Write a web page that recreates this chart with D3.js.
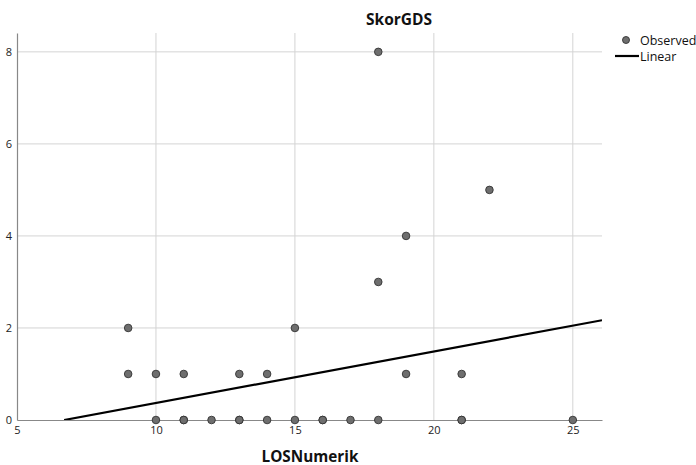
<!DOCTYPE html>
<html>
<head>
<meta charset="utf-8">
<script src="https://cdn.jsdelivr.net/npm/d3@7"></script>
<style>
  body { margin: 0; background: #fff; }
  text { font-family: "Open Sans", "DejaVu Sans", sans-serif; }
</style>
</head>
<body>
<script>
// observed points (LOSNumerik, SkorGDS)
var losValues  = [9, 9, 10, 11, 13, 14, 15, 18, 18, 19, 19, 21, 22,
                  10, 11, 11, 12, 13, 13, 14, 15, 16, 16, 17, 18, 21, 21, 25];
var skorValues = [2, 1, 1, 1, 1, 1, 2, 8, 3, 4, 1, 1, 5,
                  0, 0, 0, 0, 0, 0, 0, 0, 0, 0, 0, 0, 0, 0, 0];
// linear fit line
var fitIntercept = -0.75;
var fitSlope = 0.112;

var xTicks = [5, 10, 15, 20, 25];
var yTicks = [0, 2, 4, 6, 8];

var width = 696, height = 465;
var plotLeft = 17, plotRight = 602, plotTop = 33, plotBottom = 420;

var svg = d3.select("body").append("svg")
    .attr("width", width)
    .attr("height", height);

var x = d3.scaleLinear().domain([5, 26.05]).range([plotLeft, plotRight]);
var y = d3.scaleLinear().domain([0, 8.41]).range([plotBottom, plotTop]);

// grid
svg.selectAll("line.gx").data(xTicks.slice(1)).enter().append("line")
    .attr("x1", function(d) { return x(d); })
    .attr("x2", function(d) { return x(d); })
    .attr("y1", plotTop).attr("y2", plotBottom)
    .attr("stroke", "#d4d4d4").attr("stroke-width", 1);
svg.selectAll("line.gy").data(yTicks.slice(1)).enter().append("line")
    .attr("x1", plotLeft).attr("x2", plotRight)
    .attr("y1", function(d) { return y(d); })
    .attr("y2", function(d) { return y(d); })
    .attr("stroke", "#d4d4d4").attr("stroke-width", 1);

// axes
var xAxis = svg.append("g")
    .attr("transform", "translate(0," + plotBottom + ")")
    .call(d3.axisBottom(x).tickValues(xTicks).tickSize(0).tickPadding(6));
var yAxis = svg.append("g")
    .attr("transform", "translate(" + plotLeft + ",0)")
    .call(d3.axisLeft(y).tickValues(yTicks).tickSize(0).tickPadding(5));

[xAxis, yAxis].forEach(function(a) {
    a.select(".domain").attr("stroke", "#888").attr("stroke-width", 1.2);
    a.selectAll("text")
        .attr("font-family", "'Open Sans', sans-serif")
        .attr("font-size", "11px")
        .attr("fill", "#222");
});

// fit line, clipped to plot region
svg.append("clipPath").attr("id", "plotclip")
    .append("rect").attr("x", plotLeft).attr("y", plotTop)
    .attr("width", plotRight - plotLeft).attr("height", plotBottom - plotTop);

var x0 = -fitIntercept / fitSlope;
var x1 = x.domain()[1];
svg.append("line")
    .attr("clip-path", "url(#plotclip)")
    .attr("x1", x(x0)).attr("y1", y(0))
    .attr("x2", x(x1)).attr("y2", y(fitIntercept + fitSlope * x1))
    .attr("stroke", "#000").attr("stroke-width", 2.2);

// points
svg.selectAll("circle.pt").data(losValues).enter().append("circle")
    .attr("cx", function(d) { return x(d); })
    .attr("cy", function(d, i) { return y(skorValues[i]); })
    .attr("r", 3.8)
    .attr("fill", "#6e6e6e")
    .attr("stroke", "#333")
    .attr("stroke-width", 0.9);

// title and label
svg.append("text")
    .attr("x", 399).attr("y", 25)
    .attr("text-anchor", "middle")
    .attr("font-size", "15.5px").attr("font-weight", "bold")
    .attr("fill", "#111")
    .text("SkorGDS");
svg.append("text")
    .attr("x", 310).attr("y", 462)
    .attr("text-anchor", "middle")
    .attr("font-size", "15.3px").attr("font-weight", "bold")
    .attr("fill", "#111")
    .text("LOSNumerik");

// legend
var legend = svg.append("g");
legend.append("circle")
    .attr("cx", 626).attr("cy", 40).attr("r", 3.5)
    .attr("fill", "#6e6e6e").attr("stroke", "#333").attr("stroke-width", 0.9);
legend.append("text")
    .attr("x", 640).attr("y", 44.5)
    .attr("font-size", "12.5px").attr("fill", "#111")
    .text("Observed");
legend.append("line")
    .attr("x1", 615).attr("x2", 639).attr("y1", 56).attr("y2", 56)
    .attr("stroke", "#000").attr("stroke-width", 2.2);
legend.append("text")
    .attr("x", 640).attr("y", 60.5)
    .attr("font-size", "12.5px").attr("fill", "#111")
    .text("Linear");
</script>
</body>
</html>
